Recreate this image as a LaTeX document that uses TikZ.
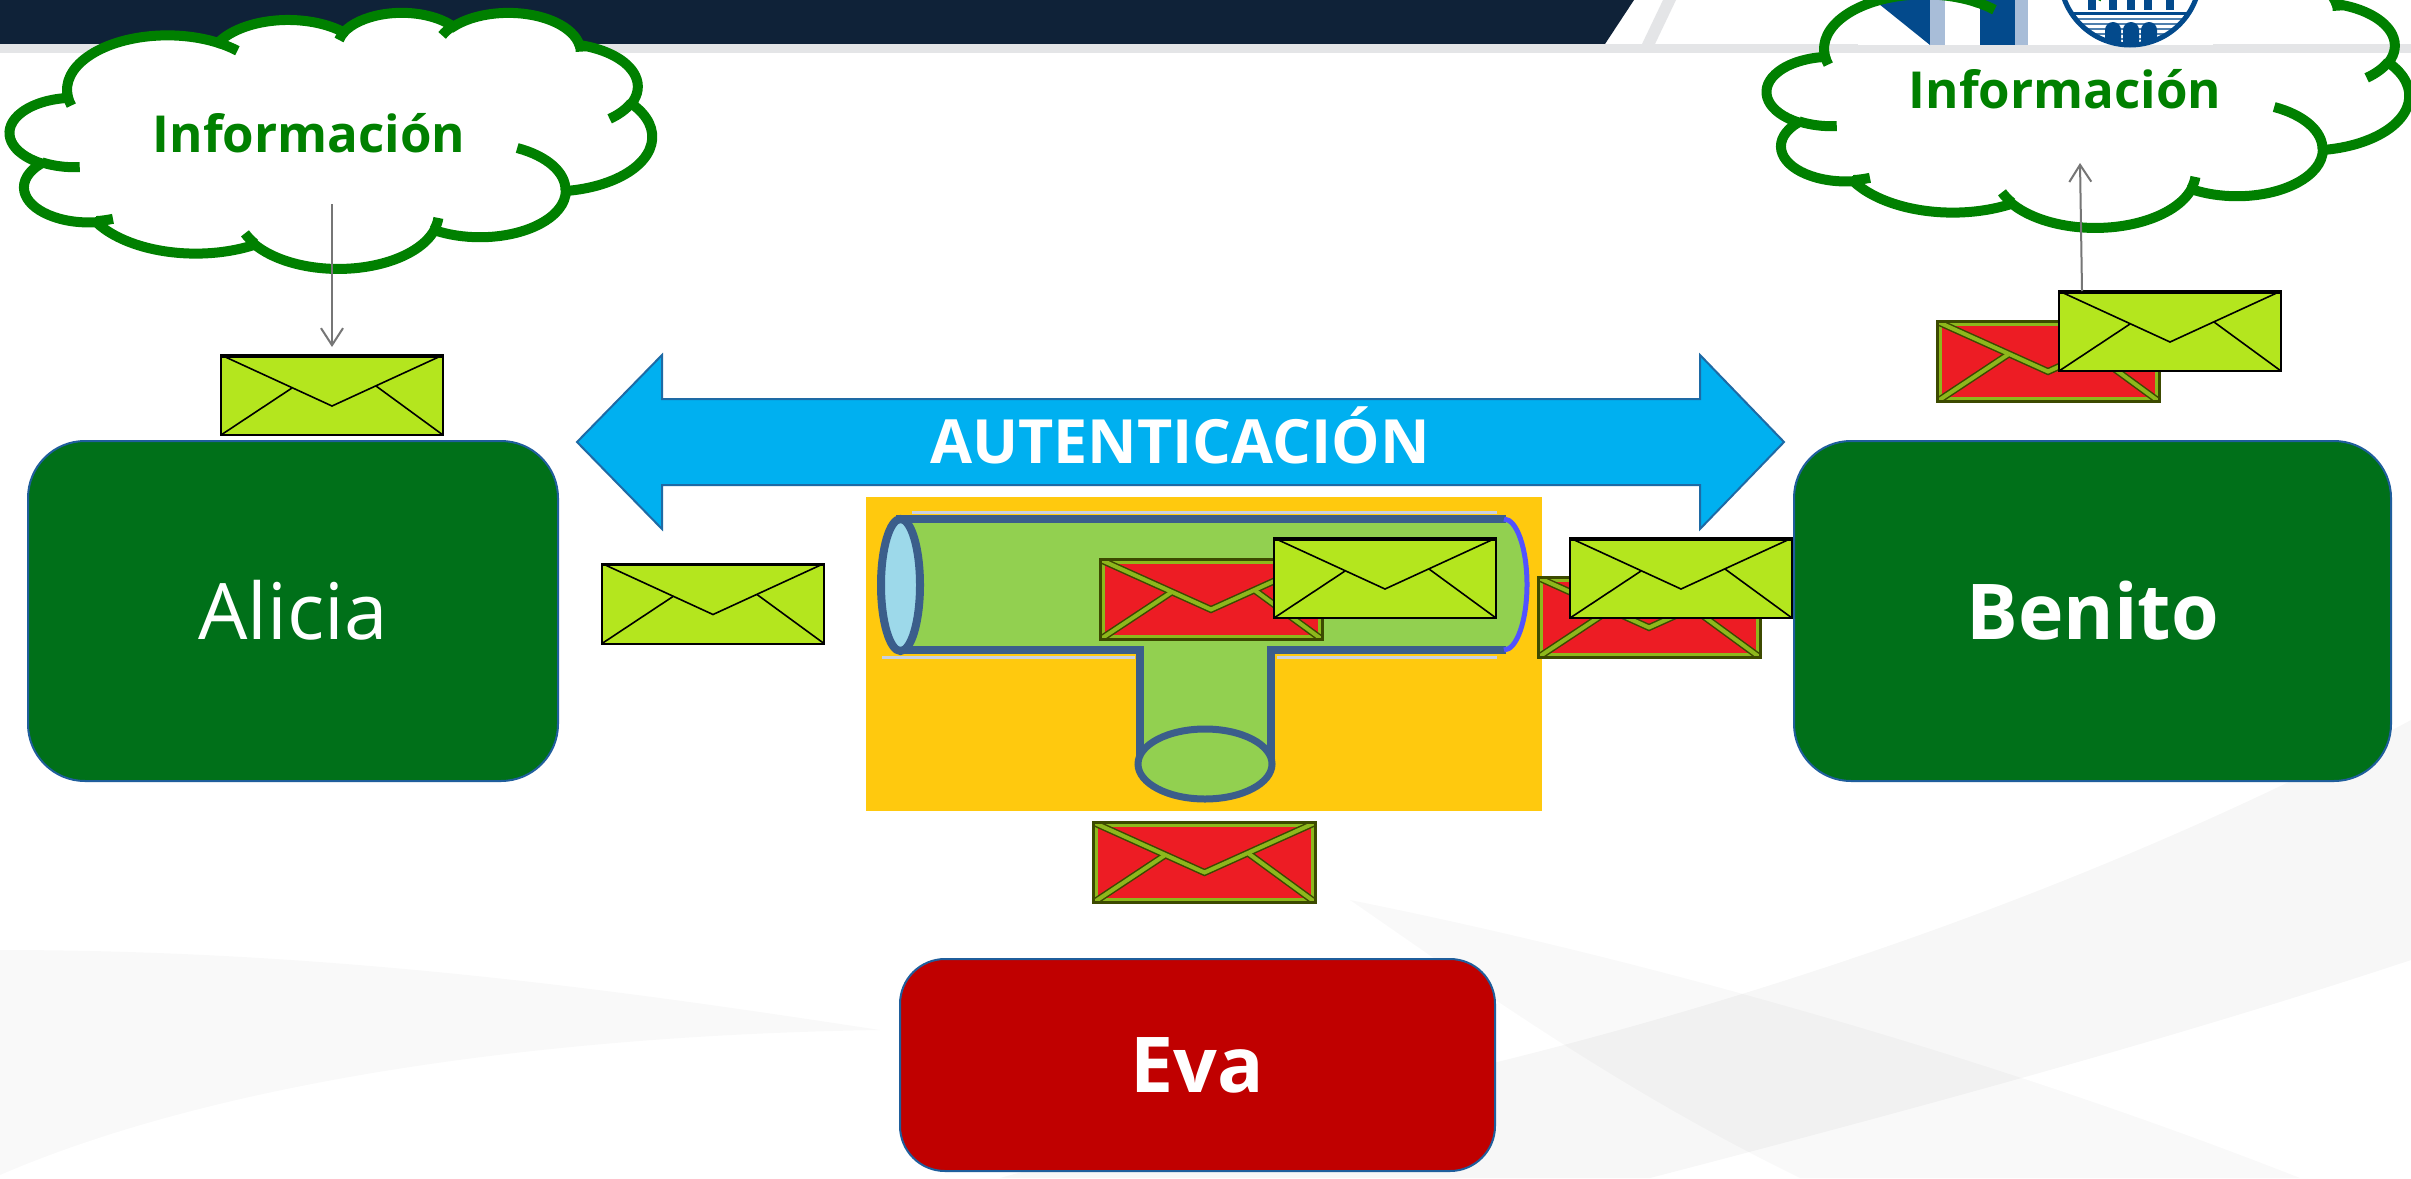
\documentclass[tikz,border=0pt]{standalone}
\usepackage{fontspec}
\setmainfont{Open Sans}
\usetikzlibrary{arrows.meta,calc}

\definecolor{navy}{HTML}{0F2238}
\definecolor{stripgray}{HTML}{E4E5E7}
\definecolor{cloudgreen}{HTML}{008000}
\definecolor{boxgreen}{HTML}{007019}
\definecolor{boxborder}{HTML}{1F5E9C}
\definecolor{evared}{HTML}{C00000}
\definecolor{arrowblue}{HTML}{00B0F0}
\definecolor{arrowedge}{HTML}{1E6AA5}
\definecolor{envlime}{HTML}{B4E61E}
\definecolor{envred}{HTML}{ED1C24}
\definecolor{envolive}{HTML}{3C4A00}
\definecolor{envstripe}{HTML}{8DB81C}
\definecolor{pipeyellow}{HTML}{FFC90E}
\definecolor{pipegreen}{HTML}{92D050}
\definecolor{pipeedge}{HTML}{3B5E8B}
\definecolor{pipecap}{HTML}{5252FF}
\definecolor{pipeend}{HTML}{9DD9EA}
\definecolor{pipeglow}{HTML}{C9D0E2}
\definecolor{logoblue}{HTML}{034A8C}
\definecolor{logolight}{HTML}{A8BDD8}
\definecolor{arrowgray}{HTML}{767676}

% one elliptic arc of the cloud outline: radii, start angle, sweep (angles on the ellipse as seen)
\newcommand\cloudarc[4]{%
  \pgfmathsetmacro\cangA{atan2((#1)*sin(#3),(#2)*cos(#3))}%
  \pgfmathsetmacro\cangB{atan2((#1)*sin((#3)+(#4)),(#2)*cos((#3)+(#4)))}%
  \pgfmathsetmacro\cangD{\cangB-\cangA}%
  \pgfmathsetmacro\cangD{\cangD<0 ? \cangD+360 : \cangD}%
  \pgfmathsetmacro\cangE{\cangA+\cangD}%
  \pgfpatharcaxes{\cangA}{\cangE}{\pgfpointxy{#1}{0}}{\pgfpointxy{0}{#2}}%
}
% cloud outline in a 43.2 x 43.2 box
\newcommand\cloudpath{%
  \pgfpathmoveto{\pgfpointxy{3.900}{14.370}}%
  \cloudarc{6.753}{9.190}{-190.48748}{123.78053}%
  \cloudarc{5.333}{7.267}{-144.10238}{89.94523}%
  \cloudarc{4.365}{5.945}{-145.80792}{99.72302}%
  \cloudarc{4.857}{6.595}{-130.98607}{117.24173}%
  \cloudarc{5.333}{7.273}{-78.70888}{109.02692}%
  \cloudarc{6.775}{9.220}{-46.26725}{130.269}%
  \cloudarc{5.785}{7.867}{0.62502}{114.03333}%
  \cloudarc{6.752}{9.215}{22.4516}{115.17255}%
  \cloudarc{7.720}{10.543}{66.24263}{75.71102}%
  \cloudarc{4.360}{5.918}{-274.94208}{146.73557}%
  \cloudarc{4.345}{5.945}{-246.8285}{152.51885}%
  \pgfpathclose}
% the short inner arcs between the puffs
\newcommand\cloudinner{%
  \pgfpathmoveto{\pgfpointxy{4.693}{26.177}}\cloudarc{4.345}{5.945}{86.742}{26.4295}%
  \pgfpathmoveto{\pgfpointxy{6.928}{34.899}}\cloudarc{4.360}{5.918}{73.61047}{11.44747}%
  \pgfpathmoveto{\pgfpointxy{16.478}{39.090}}\cloudarc{6.752}{9.215}{137.62415}{14.0811}%
  \pgfpathmoveto{\pgfpointxy{28.827}{34.751}}\cloudarc{6.752}{9.215}{6.45327}{15.99835}%
  \pgfpathmoveto{\pgfpointxy{34.129}{22.954}}\cloudarc{5.785}{7.867}{-70.29235}{70.91737}%
  \pgfpathmoveto{\pgfpointxy{41.798}{15.354}}\cloudarc{5.333}{7.273}{30.31803}{27.7515}%
  \pgfpathmoveto{\pgfpointxy{38.324}{5.426}}\cloudarc{4.857}{6.595}{-13.74433}{14.8589}%
  \pgfpathmoveto{\pgfpointxy{29.078}{3.952}}\cloudarc{4.857}{6.595}{-149.18145}{18.19537}%
  \pgfpathmoveto{\pgfpointxy{22.141}{4.720}}\cloudarc{4.365}{5.945}{-163.49427}{17.68635}%
  \pgfpathmoveto{\pgfpointxy{14.000}{5.192}}\cloudarc{6.753}{9.190}{-66.70695}{12.31935}%
  \pgfpathmoveto{\pgfpointxy{4.127}{15.789}}\cloudarc{6.753}{9.190}{157.65435}{11.85817}%
}
\newcommand\cloudfill[2]{%
  \begin{scope}[shift={(#1,#2)},x=14.861pt,y=-5.926pt]
    \cloudpath\pgfsetfillcolor{white}\pgfusepath{fill}
  \end{scope}}
\newcommand\cloudstroke[2]{%
  \begin{scope}[shift={(#1,#2)},x=14.861pt,y=-5.926pt]
    \pgfsetlinewidth{10pt}\pgfsetstrokecolor{cloudgreen}
    \cloudpath\pgfusepath{stroke}
    \cloudinner\pgfusepath{stroke}
  \end{scope}}

\tikzset{
  envbase/.style={rectangle, minimum width=222pt, minimum height=80pt,
    inner sep=0pt, outer sep=0pt},
  genv/.style={envbase, draw=black, line width=2pt, fill=envlime,
    path picture={
      \coordinate (q) at (path picture bounding box.north west);
      \draw[black, line width=5pt] (path picture bounding box.north west) -- (path picture bounding box.north east);
      \draw[black, line width=1.6pt] (q) -- ($(q)+(111,51)$) -- (path picture bounding box.north east);
      \draw[black, line width=1.6pt] (path picture bounding box.south west) -- ($(q)+(71,33)$);
      \draw[black, line width=1.6pt] (path picture bounding box.south east) -- ($(q)+(155,31)$);
    }},
  renv/.style={envbase, draw=envolive, line width=3pt, fill=envred,
    path picture={
      \coordinate (q) at (path picture bounding box.north west);
      \draw[envstripe, line width=9pt] (path picture bounding box.north west) rectangle (path picture bounding box.south east);
      \foreach \lw/\cc in {7pt/envolive, 4pt/envstripe}{
        \draw[\cc, line width=\lw] (q) -- ($(q)+(111,50)$) -- (path picture bounding box.north east);
        \draw[\cc, line width=\lw] (path picture bounding box.south west) -- ($(q)+(71,33)$);
        \draw[\cc, line width=\lw] (path picture bounding box.south east) -- ($(q)+(155,31)$);
      }
    }},
  personbox/.style={draw=boxborder, line width=2pt, fill=boxgreen,
    rounded corners=57pt, text=white, minimum height=340pt,
    text height=56pt, text depth=0pt, inner sep=0pt},
  evabox/.style={draw=boxborder, line width=2pt, fill=evared,
    rounded corners=45pt, text=white, minimum width=595pt, minimum height=212pt,
    text height=55pt, text depth=0pt, inner sep=0pt,
    font=\bfseries\fontsize{77}{90}\selectfont},
  infotext/.style={text=cloudgreen, anchor=base, inner sep=0pt,
    font=\bfseries\fontsize{51}{60}\selectfont},
  authtext/.style={text=white, anchor=base, inner sep=0pt,
    font=\bfseries\fontsize{61}{70}\selectfont},
  infoarrow/.style={draw=arrowgray, line width=2pt,
    -{Straight Barb[length=17pt, width=22pt]}},
  pipeline/.style={draw=pipeedge, line width=8pt},
}

\begin{document}
\begin{tikzpicture}[x=1pt, y=-1pt]
\useasboundingbox (0,0) rectangle (2411,1178);
\clip (0,0) rectangle (2411,1178);
\fill[white] (0,0) rectangle (2411,1178);

% soft grey swooshes of the slide background
\fill[black, opacity=0.022] (0,950) .. controls (350,950) and (650,995) .. (880,1030)
  .. controls (550,1035) and (220,1080) .. (0,1175) -- cycle;
\fill[black, opacity=0.03] (2411,720) .. controls (2150,860) and (1800,995) .. (1400,1085)
  .. controls (1250,1120) and (1100,1150) .. (1000,1178) -- (1650,1178)
  .. controls (1950,1100) and (2200,1030) .. (2411,960) -- cycle;
\fill[black, opacity=0.022] (1350,900) .. controls (1650,960) and (2000,1060) .. (2300,1178)
  -- (1800,1178) .. controls (1620,1090) and (1480,990) .. (1350,900) -- cycle;

% right cloud body sits under the slide header
\cloudfill{1767}{-29}

% slide header
\fill[navy] (0,0) -- (1634,0) -- (1605,44) -- (0,44) -- cycle;
\fill[stripgray] (0,44) rectangle (2411,53);
\fill[stripgray] (1663,0) -- (1676,0) -- (1655,44) -- (1642,44) -- cycle;
\fill[white] (1858,0) rectangle (2213,45);
% university logo
\fill[logoblue] (1874,0) -- (1930,0) -- (1930,45) -- cycle;
\fill[logolight] (1930,0) rectangle (1945,45);
\fill[logoblue] (1980,0) rectangle (2015,45);
\fill[logolight] (2015,0) rectangle (2028,45);
\begin{scope}
  \clip (2130,-25) circle[radius=70];
  \fill[white] (2130,-25) circle[radius=70];
  \foreach \cx in {2092,2113,2131,2148,2170}
    \fill[logoblue] (\cx-4,0) rectangle (\cx+4,10);
  \fill[logoblue] (2060,12) rectangle (2200,15);
  \foreach \hy in {19,24,29,34,39}
    \draw[logoblue!70, line width=1.2pt] (2060,\hy) -- (2200,\hy);
  \foreach \ax in {2113,2131,2149}
    \fill[logoblue] (\ax-8,45) -- (\ax-8,30) arc[start angle=180, end angle=360, radius=8] -- (\ax+8,45) -- cycle;
\end{scope}
\draw[logoblue, line width=5pt] (2130,-25) circle[radius=70];

\cloudstroke{1767}{-29}
\cloudfill{10}{12}
\cloudstroke{10}{12}

\node[infotext] (infoL) at (309,152) {Información};
\node[infotext] (infoR) at (2065,108) {Información};

% the three parties
\node[personbox, minimum width=530pt, font=\fontsize{78}{90}\selectfont] (alicia) at (293,611) {Alicia};
\node[personbox, minimum width=597pt, font=\bfseries\fontsize{77}{90}\selectfont] (benito) at (2092.5,611) {Benito};
\node[evabox] (eva) at (1197.5,1065) {Eva};

% two-headed authentication arrow
\draw[fill=arrowblue, draw=arrowedge, line width=2pt, line join=miter]
  (577,442) -- (662,355) -- (662,399) -- (1700,399) -- (1700,355) -- (1784,442)
  -- (1700,529) -- (1700,485) -- (662,485) -- (662,529) -- cycle;
\node[authtext] (auth) at (1180,463) {AUTENTICACIÓN};

% tapped pipe
\fill[pipeyellow] (866,497) rectangle (1542,811);
\fill[pipegreen] (900,519) -- (1506,519) arc[start angle=-90, end angle=90, x radius=21, y radius=65.5]
  -- (1271,650) -- (1271,764) -- (1140,764) -- (1140,650) -- (900,650) -- cycle;
\draw[pipeglow, line width=3pt] (912,512) -- (1497,512);
\draw[pipeglow, line width=3pt] (882,657) -- (1135,657);
\draw[pipeglow, line width=3pt] (1277,657) -- (1497,657);
\draw[pipeline] (896,519) -- (1506,519);
\draw[pipeline] (1506,650) -- (1271,650) -- (1271,764);
\draw[pipeline] (1140,764) -- (1140,650) -- (896,650);
\draw[pipecap, line width=5pt] (1504,519) arc[start angle=-90, end angle=90, x radius=23, y radius=65.5];
\filldraw[fill=pipegreen, draw=pipeedge, line width=7pt] (1205,764) ellipse[x radius=67, y radius=35];
\filldraw[fill=pipeend, draw=pipeedge, line width=8pt] (900.5,585) ellipse[x radius=19.5, y radius=66];

% envelopes
\node[genv] (envA) at (332,395) {};
\node[genv] (envB) at (713,603.5) {};
\node[renv] (envC) at (1211,599.5) {};
\node[genv] (envD) at (1385,578) {};
\node[renv] (envF) at (1204.5,862.5) {};
\node[renv] (envG) at (1649,617.5) {};
\node[genv] (envH) at (1681,578) {};
\node[renv] (envI) at (2048,361.5) {};
\node[genv] (envE) at (2170,331) {};

% information flow
\coordinate (srcL) at (332,204);
\draw[infoarrow] (srcL) -- ([yshift=8pt]envA.north);
\coordinate (dstR) at (2080,163);
\draw[infoarrow] ([xshift=23pt]envE.north west) -- (dstR);
\end{tikzpicture}
\end{document}
